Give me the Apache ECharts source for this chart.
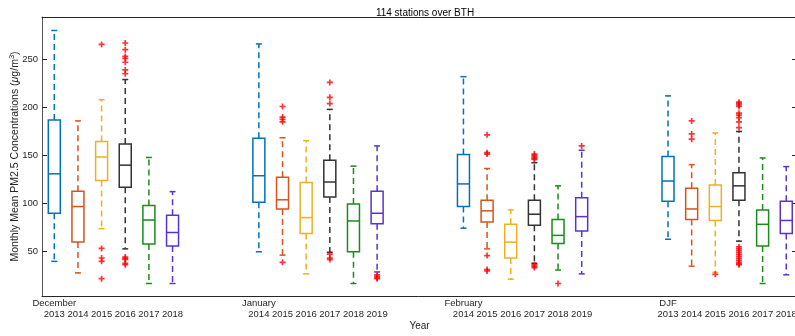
<!DOCTYPE html>
<html><head><meta charset="utf-8">
<script src="https://cdn.jsdelivr.net/npm/echarts@6/dist/echarts.min.js"></script>
<style>html,body{margin:0;padding:0;background:#fff}#c{width:795px;height:336px}</style>
</head><body><div id="c"></div>
<script>
// ---- data ----
const groups = ['December', 'January', 'February', 'DJF'];
const decYears = ['2013','2014','2015','2016','2017','2018'];
const janYears = ['2014','2015','2016','2017','2018','2019'];
const febYears = ['2014','2015','2016','2017','2018','2019'];
const djfYears = ['2013','2014','2015','2016','2017','2018'];
const colors = ['#0072BD','#D95319','#EDB120','#333333','#1A8C1A','#5A32D2'];
// box stats: [min(whisker), Q1, median, Q3, max(whisker)]
const decBoxes = [
  [40, 90, 131, 187, 280],
  [28, 60, 97, 113, 186],
  [74, 124, 148.5, 164.5, 208],
  [53, 117, 140, 162, 229],
  [17, 58, 83, 98, 148],
  [17, 56, 70, 88, 112.5]
];
const janBoxes = [
  [50, 101.5, 129, 168, 266],
  [46.5, 94.5, 104, 127.5, 168.5],
  [27, 69, 85.5, 122, 165.5],
  [49.5, 107, 122.5, 145, 198],
  [17, 50, 82, 99.5, 139],
  [29, 79, 90, 113, 160]
];
const febBoxes = [
  [74.5, 97, 120.5, 151, 232],
  [53, 81, 92.5, 103.5, 136.5],
  [21.5, 43.5, 60, 78.5, 93.5],
  [38, 77.5, 89, 103.5, 142.5],
  [31, 58.5, 67, 83.5, 118.5],
  [27, 71.5, 86.5, 106, 155.5]
];
const djfBoxes = [
  [63, 102.5, 123.5, 149, 212],
  [35, 83.5, 94.5, 116, 140.5],
  [28.5, 82.5, 97, 119.5, 173.5],
  [61, 103.5, 118.5, 132, 175],
  [17, 56, 78.5, 93.5, 147.5],
  [26, 69, 82.5, 102.5, 138.5]
];
const decOutliers = [[], [], [265.5, 53.5, 43.5, 40, 22],
  [267, 260, 253, 251, 247, 239, 235, 44.5, 43, 42, 38, 36.5], [], []];
const janOutliers = [[], [201, 190, 187.5, 185, 39], [],
  [226, 210.5, 204, 47.5, 43.5, 42], [], [26, 24.5, 23, 22]];
const febOutliers = [[], [171.5, 153, 151.5, 46, 31.5, 30], [],
  [151.5, 150, 148.5, 147, 146, 36.5, 35, 33.5], [17], [160]];
const djfOutliers = [[], [186, 172.5, 167], [26.5],
  [205.5, 204, 202.5, 201, 194, 192, 189.5, 185, 179, 55, 53, 51, 49, 47, 45, 43, 41, 39, 37.5, 36.5], [], []];
const yTicks = [50, 100, 150, 200, 250];

// ---- build ----
const GROUP_STRIDE = 8.65;
const allYears = [decYears, janYears, febYears, djfYears];
const allBoxes = [decBoxes, janBoxes, febBoxes, djfBoxes];
const allOut = [decOutliers, janOutliers, febOutliers, djfOutliers];
const boxData = [], outData = [], tickPos = [], tickLab = [], groupPos = [];
allBoxes.forEach((boxes, g) => {
  groupPos.push(g * GROUP_STRIDE);
  boxes.forEach((b, i) => {
    const x = g * GROUP_STRIDE + i;
    boxData.push([x, b[0], b[1], b[2], b[3], b[4], i]);
    tickPos.push(x);
    tickLab.push(allYears[g][i]);
    allOut[g][i].forEach(v => outData.push([x, v]));
  });
});
const nearest = (arr, v) => { let k = 0, d = 1e9; arr.forEach((p, j) => { if (Math.abs(p - v) < d) { d = Math.abs(p - v); k = j; } }); return k; };

const chart = echarts.init(document.getElementById('c'), null, {renderer: 'canvas'});
const axisCol = '#262626';
const xMin = -0.52, xMax = 31.404;
const lblFont = {fontSize: 9.5, color: axisCol, fontFamily: 'Liberation Sans'};
chart.setOption({
  animation: false,
  title: {text: '114 stations over BTH', left: 420, top: 3, textAlign: 'center',
    textStyle: {fontSize: 10, fontWeight: 'normal', color: '#000', fontFamily: 'Liberation Sans'}},
  grid: {left: 42, top: 17, width: 755, height: 279, outerBoundsMode: 'none', containLabel: false},
  xAxis: [{
    type: 'value', min: xMin, max: xMax, position: 'bottom',
    axisLine: {show: true, onZero: false, lineStyle: {color: axisCol, width: 1}},
    axisTick: {show: false}, splitLine: {show: false},
    axisLabel: Object.assign({customValues: tickPos, margin: 13, hideOverlap: false,
      formatter: v => tickLab[nearest(tickPos, v)]}, lblFont),
    name: 'Year', nameLocation: 'middle', nameGap: 25, nameMoveOverlap: false,
    nameTextStyle: {fontSize: 10, color: axisCol, fontFamily: 'Liberation Sans'}
  }, {
    type: 'value', min: xMin, max: xMax, position: 'top',
    axisLine: {show: true, onZero: false, lineStyle: {color: axisCol, width: 1}},
    axisTick: {show: false}, axisLabel: {show: false}, splitLine: {show: false}
  }, {
    type: 'value', min: xMin, max: xMax, position: 'bottom',
    axisLine: {show: false, onZero: false}, axisTick: {show: false}, splitLine: {show: false},
    axisLabel: Object.assign({customValues: groupPos, margin: 2, hideOverlap: false,
      formatter: v => groups[nearest(groupPos, v)]}, lblFont)
  }],
  yAxis: [{
    type: 'value', min: 4, max: 294, position: 'left',
    axisLine: {show: true, onZero: false, lineStyle: {color: '#555', width: 1}},
    axisTick: {show: true, inside: true, length: 5, customValues: yTicks, lineStyle: {color: axisCol}},
    axisLabel: Object.assign({customValues: yTicks, margin: 4}, lblFont),
    splitLine: {show: false},
    name: 'Monthly Mean PM2.5 Concentrations ({i|μ}g/m{sup|3})',
    nameLocation: 'middle', nameGap: 20, nameRotate: 90, nameMoveOverlap: false,
    nameTextStyle: {fontSize: 10.5, color: axisCol, fontFamily: 'Liberation Sans',
      rich: {i: {fontSize: 10.5, fontStyle: 'italic', color: axisCol, fontFamily: 'Liberation Sans'},
             sup: {fontSize: 7.5, color: axisCol, verticalAlign: 'top', padding: [0, 0, 6, 0], fontFamily: 'Liberation Sans'}}}
  }, {
    type: 'value', min: 4, max: 294, position: 'right',
    axisLine: {show: true, onZero: false, lineStyle: {color: axisCol, width: 1}},
    axisTick: {show: true, inside: true, length: 5, customValues: yTicks, lineStyle: {color: axisCol}},
    axisLabel: {show: false}, splitLine: {show: false}
  }],
  series: [{
    type: 'custom',
    data: boxData,
    encode: {x: 0, y: [1, 2, 3, 4, 5]},
    renderItem: (params, api) => {
      const x = api.value(0);
      const c = colors[api.value(6)];
      const pMin = api.coord([x, api.value(1)]);
      const pQ1 = api.coord([x, api.value(2)]);
      const pMed = api.coord([x, api.value(3)]);
      const pQ3 = api.coord([x, api.value(4)]);
      const pMax = api.coord([x, api.value(5)]);
      const cx = pMin[0], hw = 6, cw = 3;
      const solid = {stroke: c, lineWidth: 1.5, fill: null};
      const dashed = {stroke: c, lineWidth: 1.5, lineDash: [6, 4], fill: null};
      return {type: 'group', children: [
        {type: 'line', shape: {x1: cx, y1: pQ3[1], x2: cx, y2: pMax[1]}, style: dashed},
        {type: 'line', shape: {x1: cx, y1: pQ1[1], x2: cx, y2: pMin[1]}, style: dashed},
        {type: 'line', shape: {x1: cx - cw, y1: pMax[1], x2: cx + cw, y2: pMax[1]}, style: solid},
        {type: 'line', shape: {x1: cx - cw, y1: pMin[1], x2: cx + cw, y2: pMin[1]}, style: solid},
        {type: 'rect', shape: {x: cx - hw, y: pQ3[1], width: 2 * hw, height: pQ1[1] - pQ3[1]}, style: solid},
        {type: 'line', shape: {x1: cx - hw, y1: pMed[1], x2: cx + hw, y2: pMed[1]}, style: solid}
      ]};
    }
  }, {
    type: 'scatter',
    data: outData,
    symbol: 'path://M1.8,0H3.2V5H1.8ZM0,1.8H5V3.2H0Z',
    symbolSize: 6,
    itemStyle: {color: '#FF0000'}
  }]
});
</script></body></html>
